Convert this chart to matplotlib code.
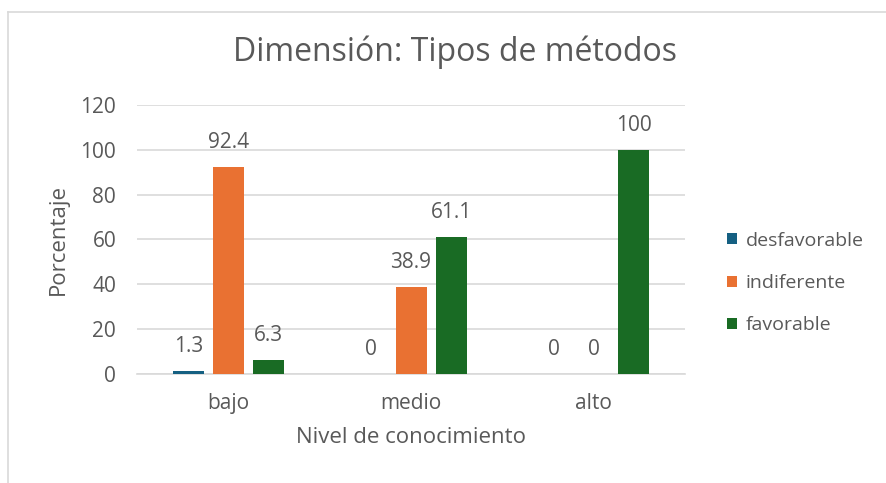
import numpy as np
import matplotlib.pyplot as plt
from matplotlib.lines import Line2D

categorias = ['bajo', 'medio', 'alto']
series = ['desfavorable', 'indiferente', 'favorable']
desfavorable = [1.3, 0, 0]
indiferente = [92.4, 38.9, 0]
favorable = [6.3, 61.1, 100]
colores = ['#156082', '#E97132', '#196B24']

plt.rcParams['font.family'] = ['Open Sans', 'DejaVu Sans']
gris = '#595959'

fig = plt.figure(figsize=(8.87, 4.83), dpi=100)
ax = fig.add_axes([0.1545, 0.2257, 0.6178, 0.5569])

x = np.arange(len(categorias))
ancho = 0.17
paso = 0.219
for i, (nombre, valores) in enumerate(zip(series, [desfavorable, indiferente, favorable])):
    pos = x + (i - 1) * paso
    ax.bar(pos, valores, ancho, color=colores[i], label=nombre, zorder=3)
    for p, v in zip(pos, valores):
        ax.annotate(f'{v:g}', (p, v), xytext=(0, 10), textcoords='offset points',
                    ha='center', va='bottom', fontsize=15, color=gris)

ax.set_xlim(-0.5, 2.5)
ax.set_ylim(0, 120)
ax.set_yticks(range(0, 121, 20))
ax.set_xticks(x)
ax.set_xticklabels(categorias)
ax.tick_params(axis='both', length=0, labelsize=15, colors=gris)
ax.tick_params(axis='y', pad=15)
ax.tick_params(axis='x', pad=14)
ax.grid(axis='y', color='#D9D9D9', linewidth=1.2, zorder=0)
for s in ['top', 'right', 'left']:
    ax.spines[s].set_visible(False)
ax.spines['bottom'].set_color('#D9D9D9')
ax.spines['bottom'].set_linewidth(1.2)

ax.set_xlabel('Nivel de conocimiento', fontsize=16, color=gris, labelpad=9)
ax.set_ylabel('Porcentaje', fontsize=16, color=gris, labelpad=8)
fig.text(0.513, 0.892, 'Dimensión: Tipos de métodos', ha='center', va='center',
         fontsize=23, color=gris)

fig.legend(loc='center left', bbox_to_anchor=(0.82, 0.414), frameon=False,
           fontsize=14, labelcolor=gris, handlelength=0.5, handleheight=0.5,
           handletextpad=0.45, labelspacing=1.25, borderpad=0, borderaxespad=0)

# marco de la captura
fig.add_artist(Line2D([0.009, 0.009], [0.0, 0.975], color='#D9D9D9', lw=1.2))
fig.add_artist(Line2D([0.009, 1.0], [0.975, 0.975], color='#D9D9D9', lw=1.2))

fig.savefig('out.png', dpi=100)
